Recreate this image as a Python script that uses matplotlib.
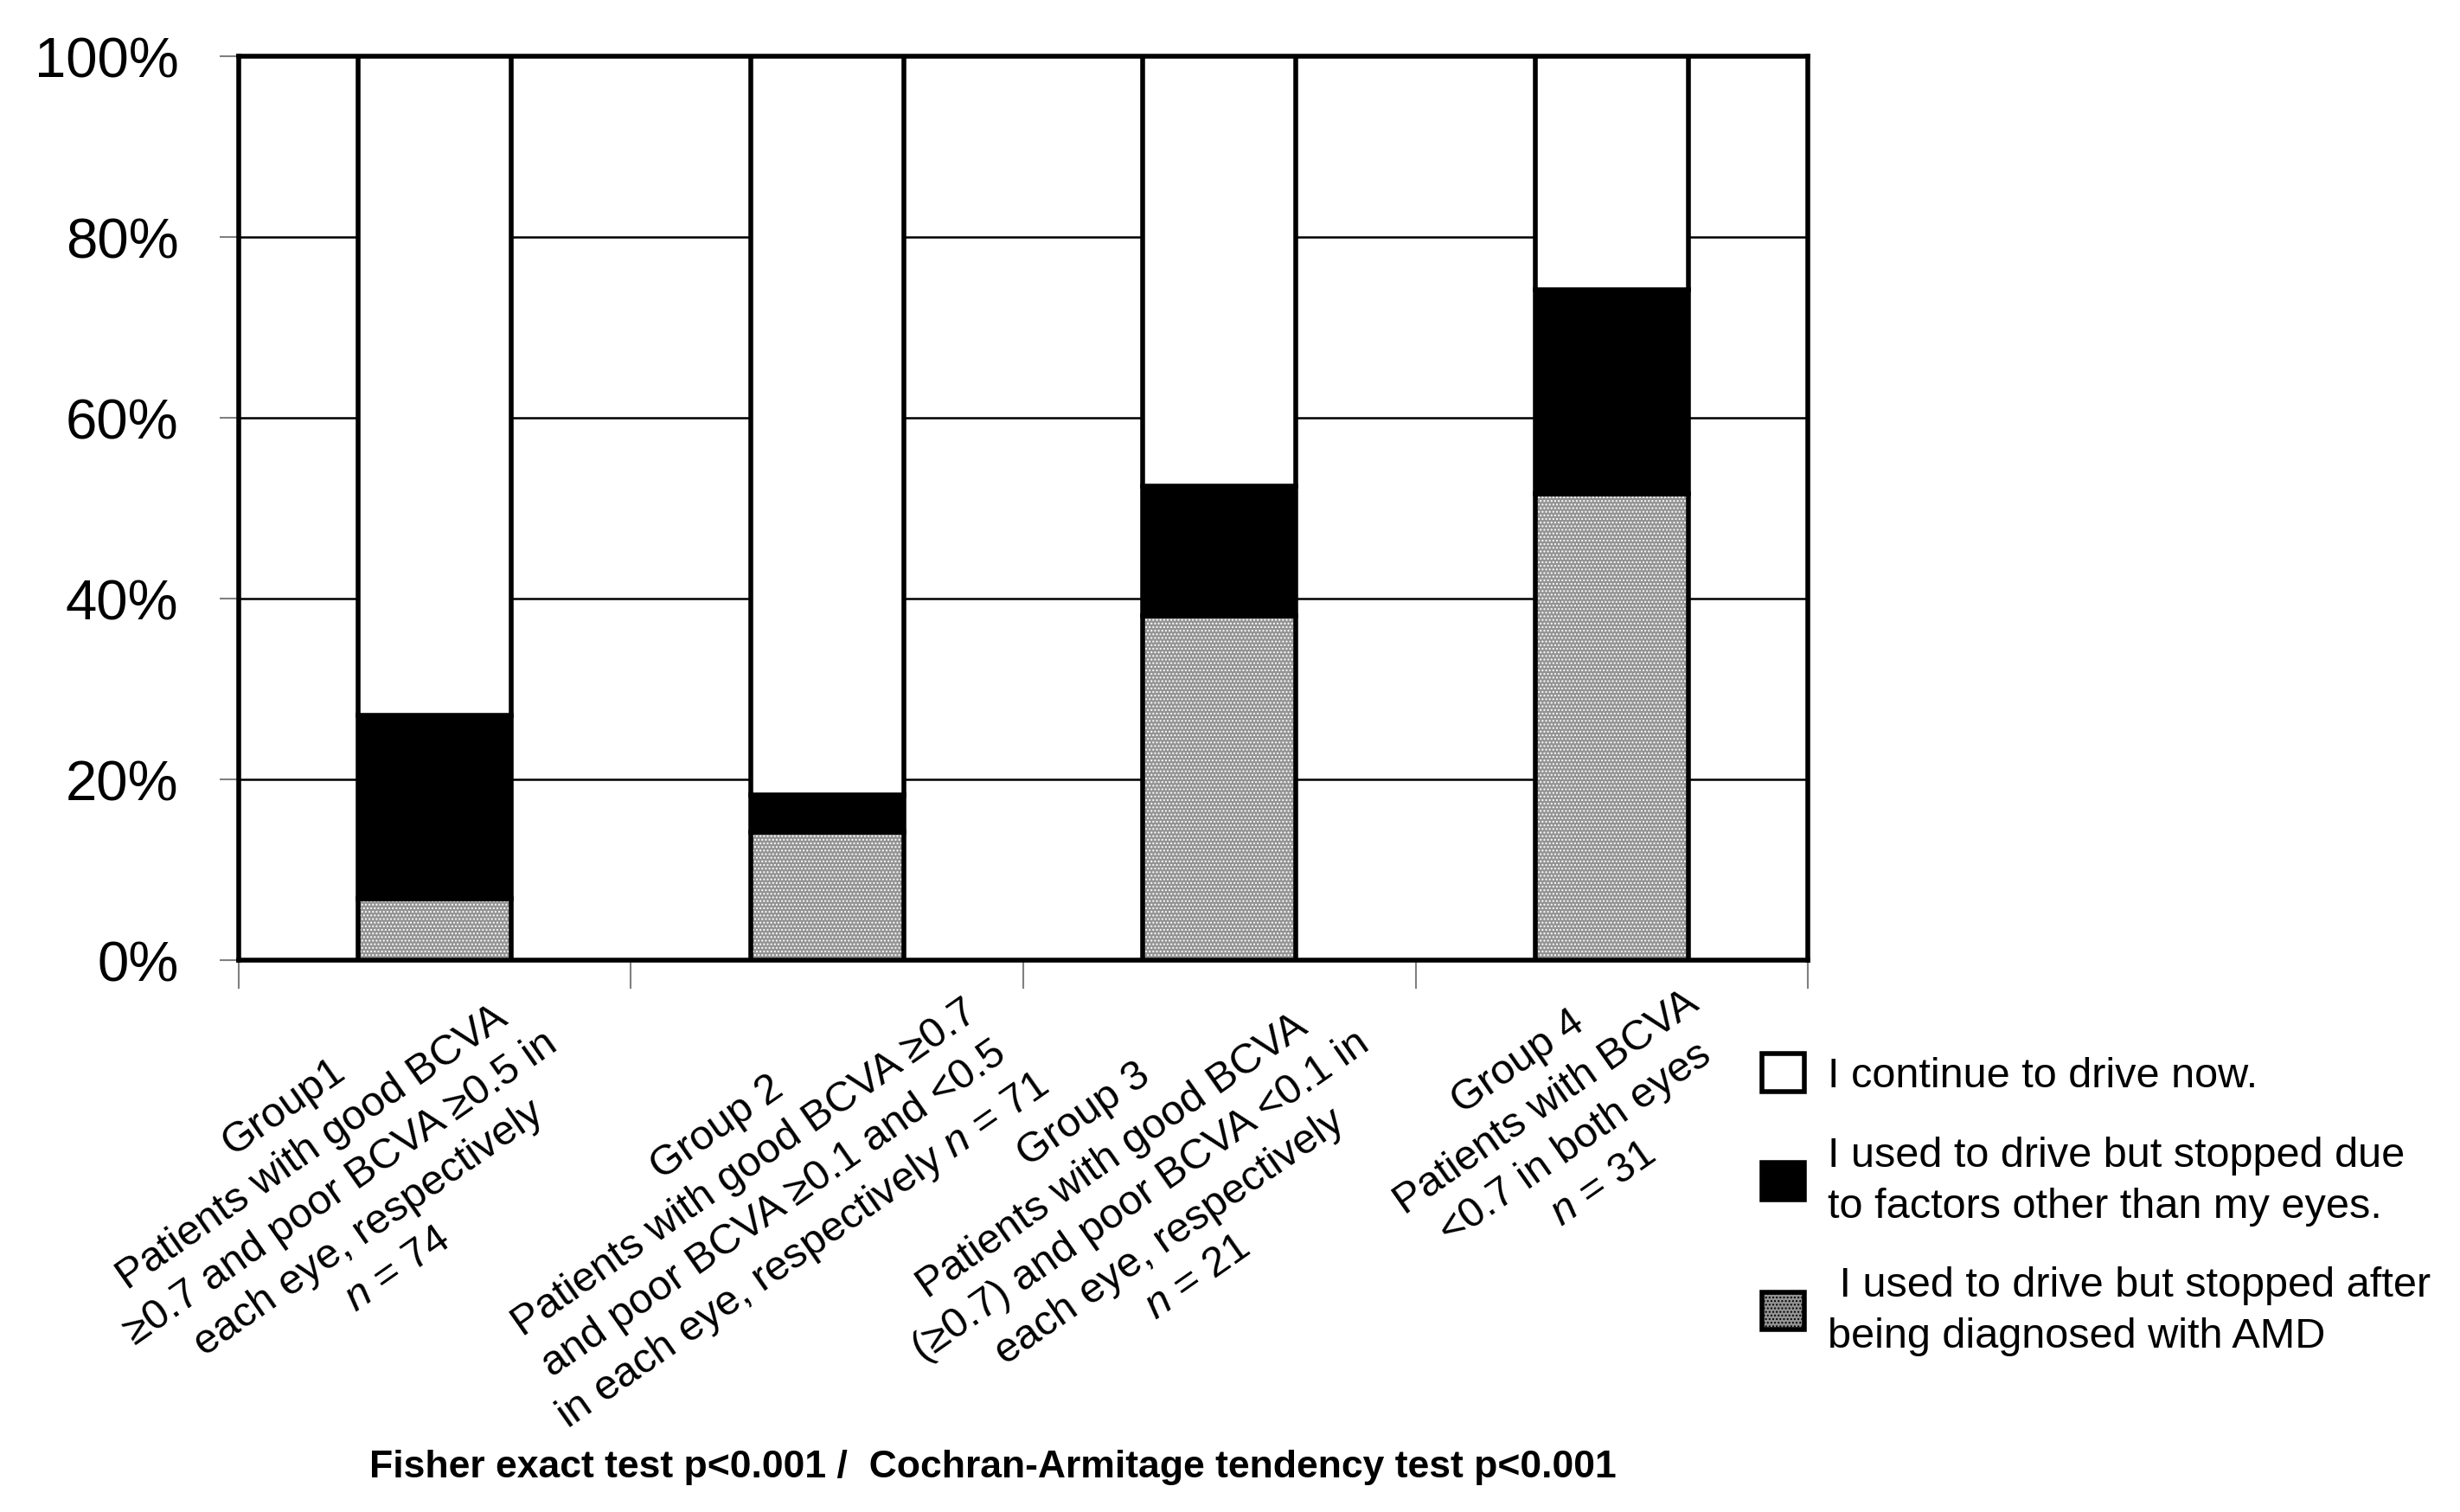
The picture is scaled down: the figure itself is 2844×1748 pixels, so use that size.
import numpy as np
import matplotlib
matplotlib.use("Agg")
from matplotlib import pyplot as plt
from matplotlib.patches import Patch
import matplotlib.transforms as mtrans

plt.rcParams["font.family"] = ["Liberation Sans", "DejaVu Sans"]
plt.rcParams["mathtext.fontset"] = "custom"
plt.rcParams["mathtext.rm"] = "Liberation Sans"
plt.rcParams["mathtext.it"] = "Liberation Sans:italic"

# data (percent of each group)
groups = [
    "Group1\nPatients with good BCVA\n\u22650.7 and poor BCVA \u22650.5 in\neach eye, respectively\n$n$ = 74",
    "Group 2\nPatients with good BCVA \u22650.7\nand poor BCVA \u22650.1 and <0.5\nin each eye, respectively $n$ = 71",
    "Group 3\nPatients with good BCVA\n(\u22650.7) and poor BCVA <0.1 in\neach eye, respectively\n$n$ = 21",
    "Group 4\nPatients with BCVA\n<0.7 in both eyes\n$n$ = 31",
]
stopped_amd = [6.8, 14.1, 38.1, 51.6]
stopped_other = [20.3, 4.2, 14.3, 22.6]
continue_now = [72.9, 81.7, 47.6, 25.8]
legend_labels = [
    "I continue to drive now.",
    "I used to drive but stopped due\nto factors other than my eyes.",
    " I used to drive but stopped after\nbeing diagnosed with AMD",
]
yticks = [0, 20, 40, 60, 80, 100]

fig = plt.figure(figsize=(28.44, 17.49), dpi=100)
ax = fig.add_axes([0.097, 0.365, 0.638, 0.597])

x = np.arange(len(groups))
w = 0.39
amd = np.array(stopped_amd)
oth = np.array(stopped_other)
cont = np.array(continue_now)

# gray dotted segment: fill + white dots, then black outline
ax.bar(x, amd, w, color="#939393", hatch="....", edgecolor="white", linewidth=0, zorder=3)
ax.bar(x, amd, w, facecolor="none", edgecolor="black", linewidth=4, zorder=4)
ax.bar(x, oth, w, bottom=amd, color="black", edgecolor="black", linewidth=4, zorder=4)
ax.bar(x, cont, w, bottom=amd + oth, color="white", edgecolor="black", linewidth=4, zorder=4)

ax.set_xlim(-0.5, len(groups) - 0.5)
ax.set_ylim(0, 100)
ax.set_yticks(yticks)
ax.set_yticklabels([f"{v}%" for v in yticks], fontsize=47)
ax.tick_params(axis="y", length=16, width=1.5, color="#808080", pad=34)
ax.set_xticks(np.arange(len(groups) + 1) - 0.5)
ax.set_xticklabels([])
ax.tick_params(axis="x", length=24, width=1.5, color="#808080")
ax.yaxis.grid(True, color="black", linewidth=1.8, zorder=0)
ax.set_axisbelow(True)
for s in ax.spines.values():
    s.set_linewidth(4)

# rotated group labels under the axis
trans = mtrans.blended_transform_factory(ax.transData, ax.transAxes)
label_dx = [-0.24, -0.17, -0.2, -0.13]
for i, lab in enumerate(groups):
    ax.text(i + label_dx[i], 0.02, lab, transform=trans, rotation=35,
            ha="center", va="top", multialignment="center", fontsize=35,
            linespacing=1.35)

handles = [
    Patch(facecolor="white", edgecolor="black", linewidth=4),
    Patch(facecolor="black", edgecolor="black", linewidth=4),
    Patch(facecolor="#939393", edgecolor="black", linewidth=4, hatch="...."),
]
leg = fig.legend(handles, legend_labels, loc="upper left", bbox_to_anchor=(0.701, 0.328),
                 frameon=False, prop={"size": 35}, handlelength=1.0,
                 handleheight=1.0, handletextpad=0.55, labelspacing=0.95)
for t in leg.get_texts():
    t.set_linespacing(1.4)

fig.text(0.150, 0.030, "Fisher exact test p<0.001 /  Cochran-Armitage tendency test p<0.001",
         fontsize=32, fontweight="bold", ha="left", va="center")

fig.savefig("out.png", dpi=100)
